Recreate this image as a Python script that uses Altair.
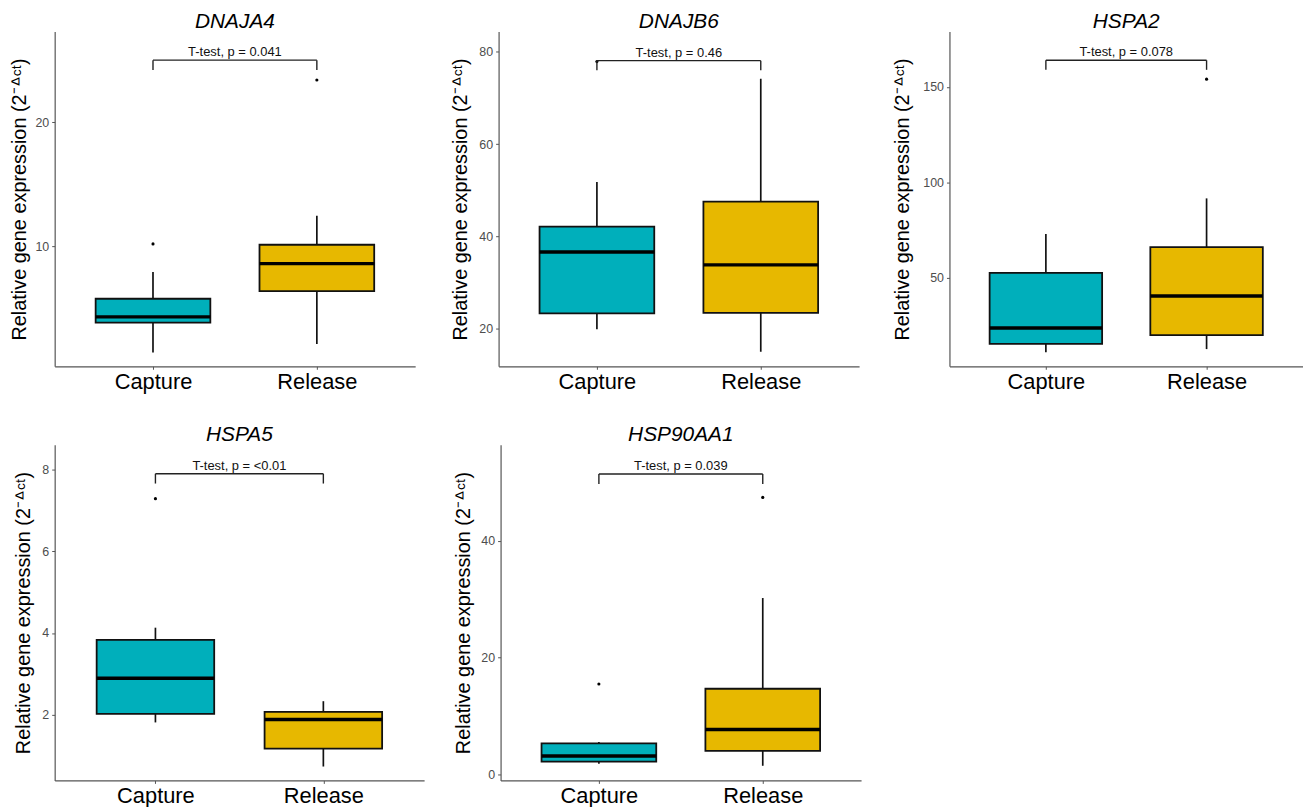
import altair as alt
import pandas as pd

# ---------------- data ----------------
genes = ["DNAJA4", "DNAJB6", "HSPA2", "HSPA5", "HSP90AA1"]
groups = ["Capture", "Release"]
group_pos = [1, 2]

whisker_low = [[1.46, 2.13], [19.85, 14.98], [11.0, 12.7], [1.81, 0.73], [1.86, 1.53]]
q1 = [[3.86, 6.40], [23.3, 23.4], [15.4, 20.0], [2.02, 1.17], [2.25, 4.07]]
median = [[4.32, 8.61], [36.6, 33.8], [23.7, 40.5], [2.89, 1.88], [3.2, 7.73]]
q3 = [[5.78, 10.13], [42.1, 47.5], [52.6, 66.1], [3.83, 2.07], [5.36, 14.7]]
whisker_high = [[7.94, 12.47], [51.8, 74.2], [72.9, 91.6], [4.13, 2.33], [5.6, 30.2]]

outlier_gene = ["DNAJA4", "DNAJA4", "DNAJB6", "HSPA2", "HSPA5", "HSP90AA1", "HSP90AA1"]
outlier_group = [1, 2, 1, 2, 1, 1, 2]
outlier_value = [10.2, 23.4, 77.9, 154.0, 7.29, 15.5, 47.4]

p_labels = ["T-test, p = 0.041", "T-test, p = 0.46", "T-test, p = 0.078",
            "T-test, p = <0.01", "T-test, p = 0.039"]
bracket_top = [25.0, 78.1, 163.9, 7.9, 51.4]
bracket_tip = [24.2, 76.0, 158.9, 7.66, 49.7]

y_domains = [[0.34, 27.3], [11.8, 84.4], [3.7, 178.9], [0.39, 8.61], [-0.97, 56.4]]
y_ticks = [[10, 20], [20, 40, 60, 80], [50, 100, 150], [2, 4, 6, 8], [0, 20, 40]]

panel_widths = [363, 363, 356, 372, 363]
panel_heights = [337, 337, 337, 338, 338]
y_extent = [25, 28, 37, 21, 27]

colors = ["#00AFBB", "#E7B800"]
FONT = "Liberation Sans"
HALF = 0.35
YTITLE = "Relative gene expression (2\u207b\u141e\u1d9c\u1d57)"


def panel(i):
    g = genes[i]
    box = pd.DataFrame({
        "group": groups,
        "pos": group_pos,
        "left": [p - HALF for p in group_pos],
        "right": [p + HALF for p in group_pos],
        "lo": whisker_low[i],
        "q1": q1[i],
        "med": median[i],
        "q3": q3[i],
        "hi": whisker_high[i],
    })
    out = pd.DataFrame({
        "pos": [p for gg, p in zip(outlier_gene, outlier_group) if gg == g],
        "val": [v for gg, v in zip(outlier_gene, outlier_value) if gg == g],
    })
    br = pd.DataFrame({
        "x1": [group_pos[0]], "x2": [group_pos[1]],
        "mid": [(group_pos[0] + group_pos[1]) / 2],
        "top": [bracket_top[i]], "tip": [bracket_tip[i]],
        "label": [p_labels[i]],
    })
    legs = pd.DataFrame({"x": group_pos, "top": [bracket_top[i]] * 2,
                         "tip": [bracket_tip[i]] * 2})

    xs = alt.Scale(domain=[0.4, 2.6], nice=False, zero=False)
    ys = alt.Scale(domain=y_domains[i], nice=False, zero=False)
    xaxis = alt.Axis(values=group_pos, title=None,
                     labelExpr="datum.value == 1 ? 'Capture' : 'Release'",
                     labelFontSize=22, labelColor="#000000", labelFont=FONT,
                     labelPadding=2, tickSize=3, tickColor="#555555",
                     domainColor="#555555", domainWidth=1.2, grid=False)
    yaxis = alt.Axis(values=y_ticks[i], title=YTITLE, titleFontSize=20,
                     titleFont=FONT, titleFontWeight="normal", titleColor="#000000",
                     titlePadding=0, minExtent=y_extent[i], maxExtent=y_extent[i],
                     labelFontSize=12.5, labelColor="#4D4D4D",
                     labelFont=FONT, labelPadding=3, tickSize=3,
                     tickColor="#555555", domainColor="#555555", domainWidth=1.2,
                     grid=False)

    base = alt.Chart(box)
    whisk = base.mark_rule(color="#111111", strokeWidth=1.7).encode(
        x=alt.X("pos:Q", scale=xs, axis=xaxis),
        y=alt.Y("lo:Q", scale=ys, axis=yaxis),
        y2="hi:Q",
    )
    boxes = base.mark_bar(stroke="#111111", strokeWidth=1.8).encode(
        x=alt.X("left:Q", scale=xs), x2="right:Q",
        y=alt.Y("q1:Q", scale=ys), y2="q3:Q",
        fill=alt.Fill("group:N", scale=alt.Scale(domain=groups, range=colors),
                      legend=None),
    )
    med = base.mark_rule(color="#000000", strokeWidth=3.5).encode(
        x=alt.X("left:Q", scale=xs), x2="right:Q",
        y=alt.Y("med:Q", scale=ys),
    )
    pts = alt.Chart(out).mark_circle(color="#000000", size=10, opacity=1).encode(
        x=alt.X("pos:Q", scale=xs), y=alt.Y("val:Q", scale=ys),
    )
    hline = alt.Chart(br).mark_rule(color="#222222", strokeWidth=1.4).encode(
        x=alt.X("x1:Q", scale=xs), x2="x2:Q", y=alt.Y("top:Q", scale=ys),
    )
    vlines = alt.Chart(legs).mark_rule(color="#222222", strokeWidth=1.4).encode(
        x=alt.X("x:Q", scale=xs), y=alt.Y("top:Q", scale=ys), y2="tip:Q",
    )
    label = alt.Chart(br).mark_text(font=FONT, fontSize=13, color="#111111",
                                    baseline="bottom", dy=-1).encode(
        x=alt.X("mid:Q", scale=xs), y=alt.Y("top:Q", scale=ys), text="label:N",
    )
    return alt.layer(whisk, boxes, med, pts, hline, vlines, label).properties(
        width=panel_widths[i], height=panel_heights[i],
        title=alt.TitleParams(g, font=FONT, fontSize=21, fontStyle="italic",
                              fontWeight="normal", color="#000000", offset=0,
                              anchor="middle"),
    )


row1 = alt.hconcat(panel(0), alt.hconcat(panel(1), panel(2), spacing=34), spacing=36)
row2 = alt.hconcat(panel(3), panel(4), spacing=30)
chart = alt.vconcat(row1, row2, spacing=32).properties(
    padding={"left": 2, "top": 0, "right": 0, "bottom": 0},
    background="white",
).configure_view(strokeWidth=0, stroke=None)

chart.save("out.html", embed_options={"renderer": "svg", "actions": False})
